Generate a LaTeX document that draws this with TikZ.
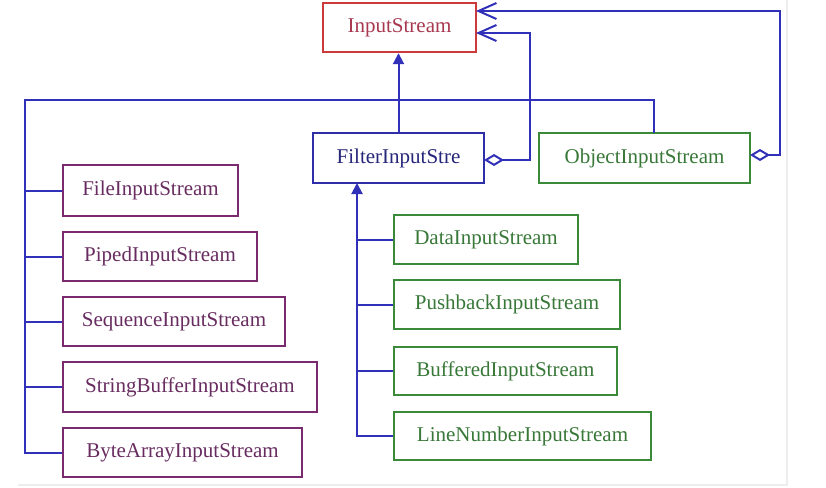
\documentclass[tikz,border=0pt]{standalone}
\usepackage{fontspec}
\setmainfont{Liberation Serif}
\usetikzlibrary{arrows.meta}
\definecolor{cRed}{HTML}{CC3A3A}
\definecolor{cRedT}{HTML}{A83850}
\definecolor{cBlue}{HTML}{2E2EA8}
\definecolor{cBlueT}{HTML}{26267A}
\definecolor{cGreen}{HTML}{3A8A3A}
\definecolor{cGreenT}{HTML}{387838}
\definecolor{cPurple}{HTML}{7A2A6E}
\definecolor{cPurpleT}{HTML}{682C60}
\definecolor{cLine}{HTML}{3030B8}
\definecolor{cEdge}{HTML}{EDEDED}
\begin{document}
\begin{tikzpicture}[x=1pt,y=-1pt,
  cls/.style={draw, line width=2.4pt, rectangle, inner sep=0pt, font=\fontsize{21}{25}\selectfont},
  redbox/.style={cls, draw=cRed, text=cRedT},
  bluebox/.style={cls, draw=cBlue, text=cBlueT},
  greenbox/.style={cls, draw=cGreen, text=cGreenT},
  purplebox/.style={cls, draw=cPurple, text=cPurpleT},
  conn/.style={draw=cLine, line width=2pt},
  gen/.style={conn, -{Triangle[length=11pt,width=11pt]}},
  agg/.style={conn, {Diamond[open,length=20pt,width=12pt,line width=2pt]}-{Straight Barb[length=18pt,width=16pt,line width=2pt]}}
]
\useasboundingbox[fill=white] (0,0) rectangle (826,487);
\draw[cEdge, line width=1.5pt] (18,485) -- (787,485) -- (787,0);

% nodes
\node[redbox, minimum width=153pt, minimum height=49pt] (is) at (399.5,27.5) {InputStream};
\node[bluebox, minimum width=171pt, minimum height=50pt] (fis) at (398.5,158) {FilterInputStre};
\node[greenbox, minimum width=211pt, minimum height=50pt] (ois) at (644.5,158) {ObjectInputStream};

\node[purplebox, minimum width=175pt, minimum height=51pt] (file) at (150.5,190.5) {FileInputStream};
\node[purplebox, minimum width=194pt, minimum height=49pt] (piped) at (160,256.5) {PipedInputStream};
\node[purplebox, minimum width=222pt, minimum height=49pt] (seq) at (174,321.5) {SequenceInputStream};
\node[purplebox, minimum width=254pt, minimum height=50pt] (sb) at (190,387) {StringBufferInputStream};
\node[purplebox, minimum width=239pt, minimum height=49pt] (ba) at (182.5,452.5) {ByteArrayInputStream};

\node[greenbox, minimum width=184pt, minimum height=49pt] (data) at (486,239.5) {DataInputStream};
\node[greenbox, minimum width=226pt, minimum height=49pt] (push) at (507,304.5) {PushbackInputStream};
\node[greenbox, minimum width=223pt, minimum height=48pt] (buf) at (505.5,371) {BufferedInputStream};
\node[greenbox, minimum width=257pt, minimum height=48pt] (ln) at (522.5,436) {LineNumberInputStream};

% helper coordinates
\coordinate (leftbus) at (25,100);
\coordinate (objtop) at (654,133);
\coordinate (fbus) at (357,183);
\coordinate (isR1) at (476,11);
\coordinate (isR2) at (476,33);
\coordinate (oisR) at (750,155);
\coordinate (fisR) at (484,160);

% generalisation of FilterInputStream to InputStream
\draw[gen] (fis.north) -- (fis.north |- is.south);

% bus from ObjectInputStream and left classes
\draw[conn] (objtop) |- (leftbus) |- (ba.west);
\foreach \n in {file,piped,seq,sb}{
  \draw[conn] (leftbus |- \n.west) -- (\n.west);
}

% filter subclasses
\draw[gen] (ln.west) -| (fbus);
\foreach \n in {data,push,buf}{
  \draw[conn] (fbus |- \n.west) -- (\n.west);
}

% aggregations
\draw[agg] (fisR) -- (530,160) |- (isR2);
\draw[agg] (oisR) -- (780,155) |- (isR1);
\end{tikzpicture}
\end{document}
